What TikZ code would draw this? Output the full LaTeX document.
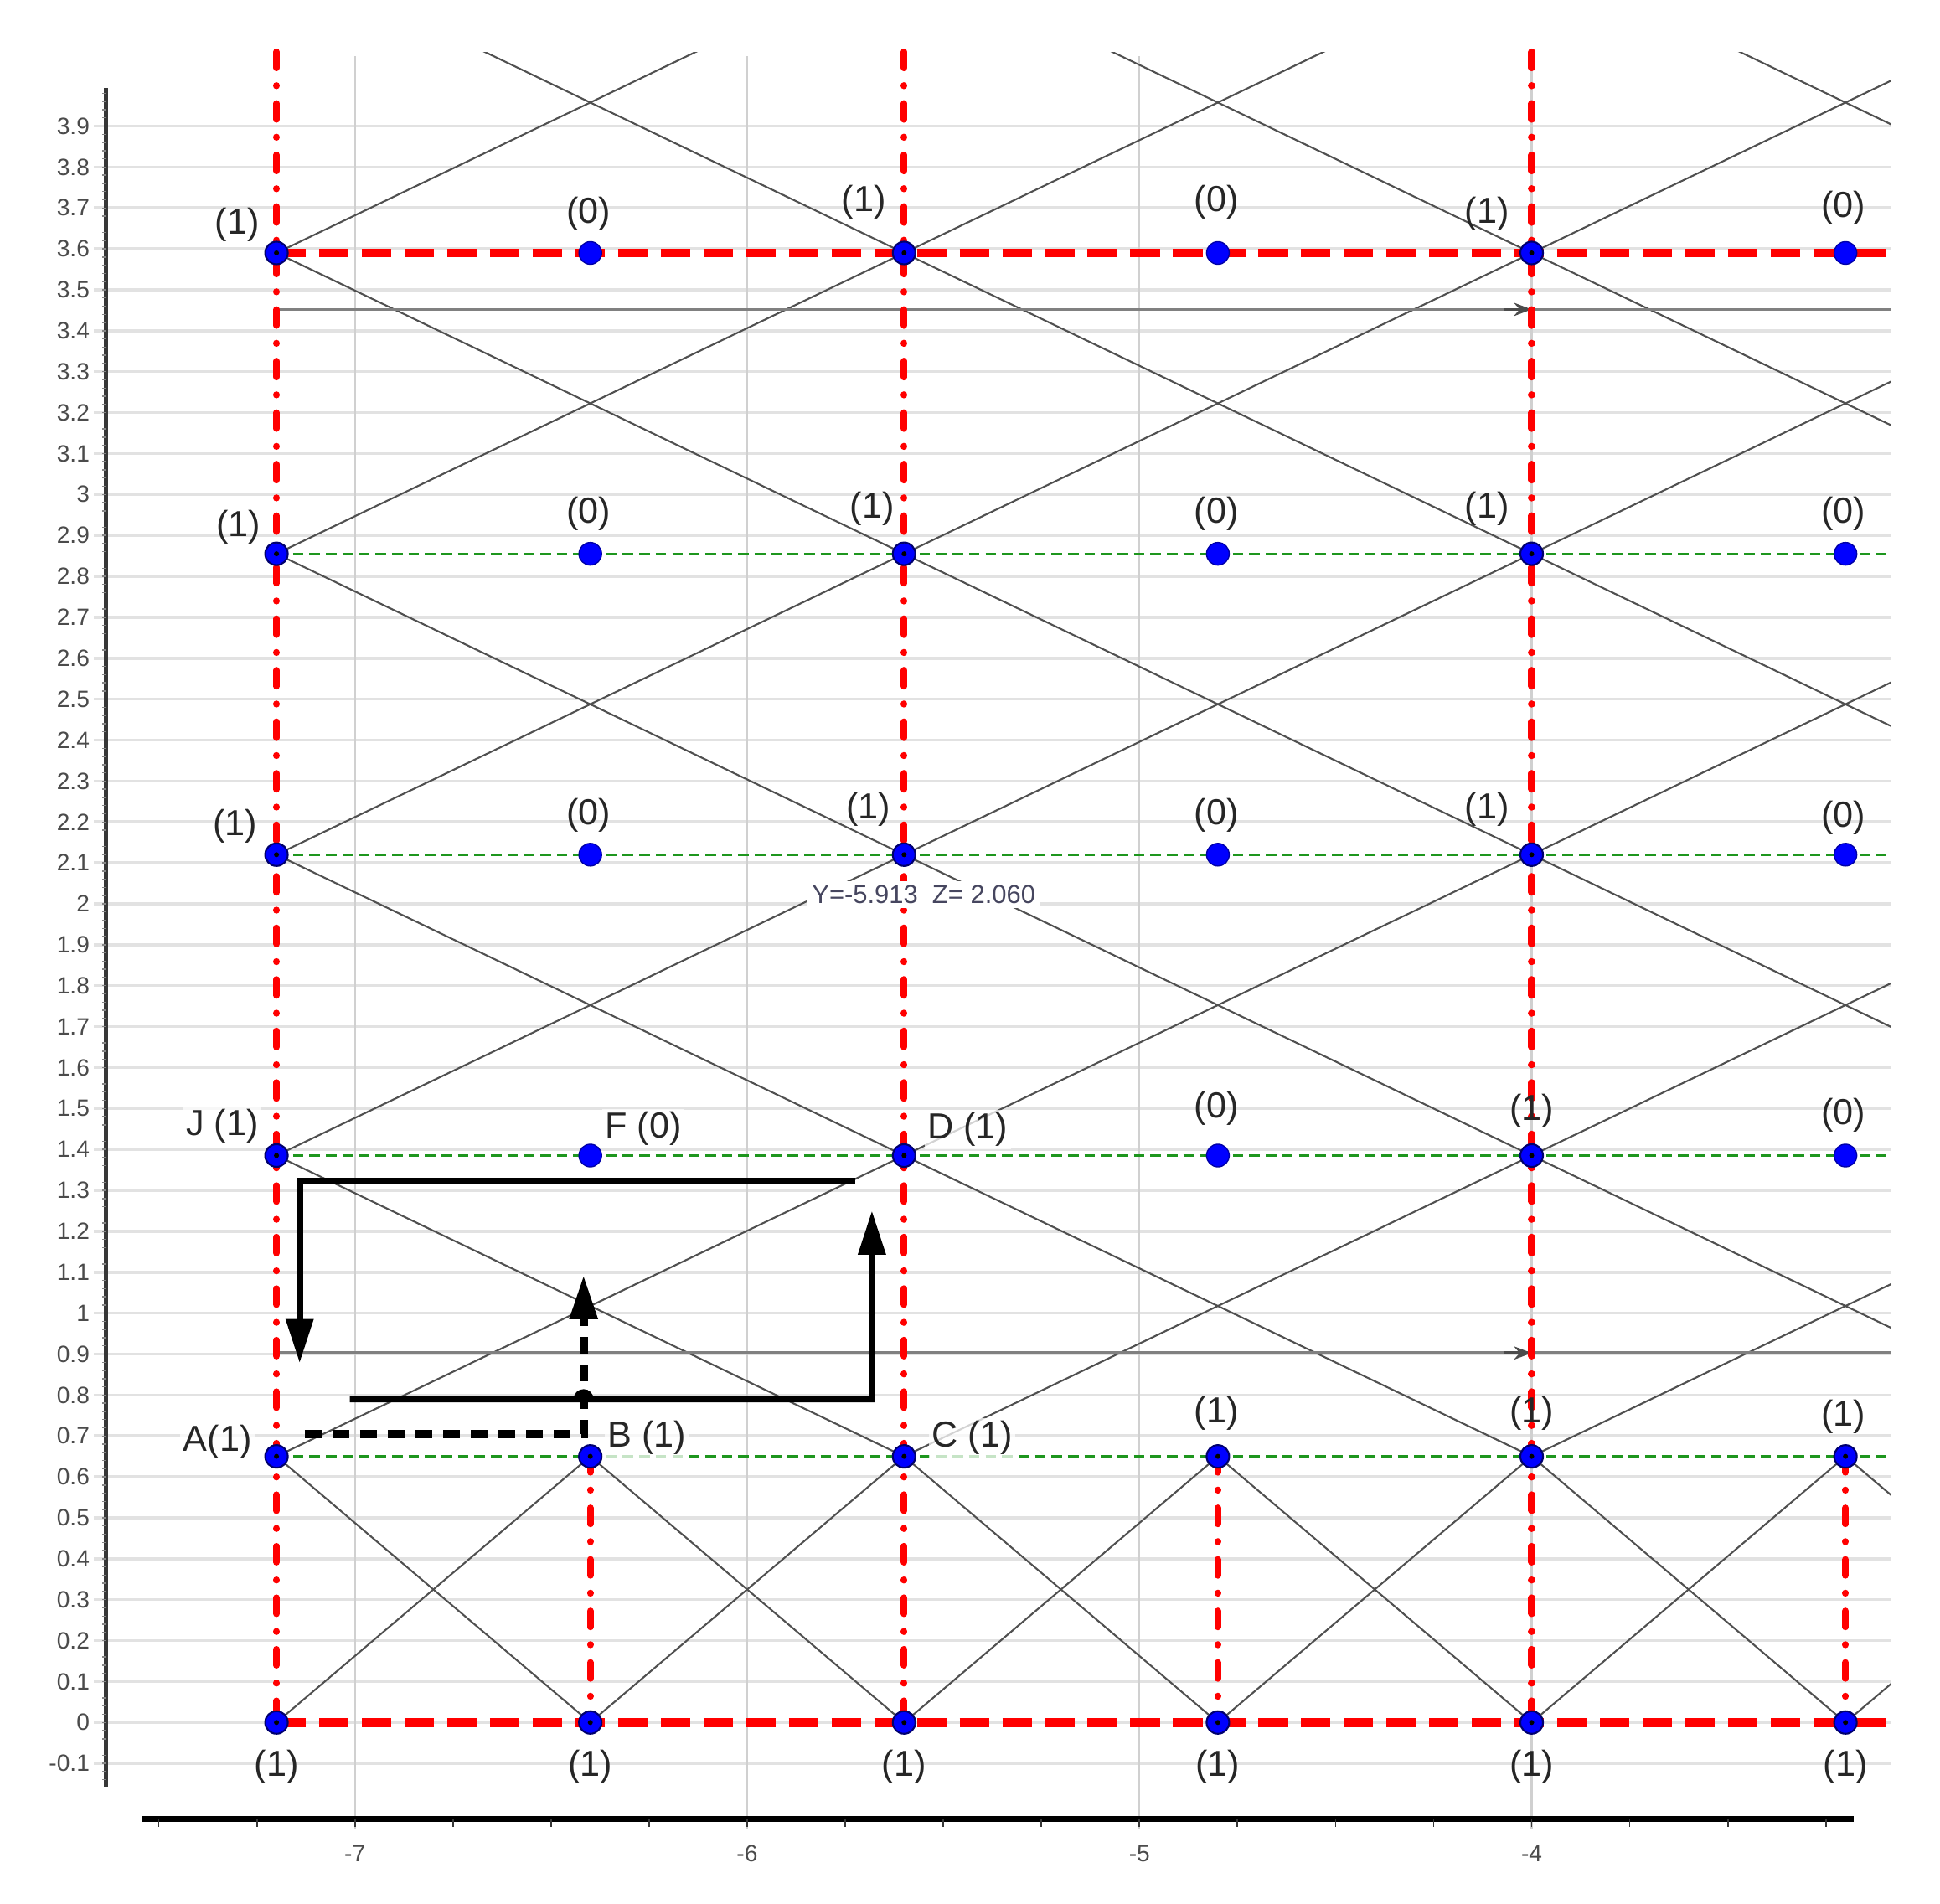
\documentclass[tikz,border=0pt]{standalone}
\usepackage{fontspec}
\setmainfont{Liberation Sans}
\usetikzlibrary{arrows.meta,calc}
\definecolor{gridgray}{RGB}{226,226,226}
\definecolor{vgridc}{RGB}{208,208,208}
\definecolor{linegray}{RGB}{80,80,80}
\definecolor{greend}{RGB}{30,150,30}
\definecolor{bluedot}{RGB}{0,0,255}
\definecolor{navyc}{RGB}{0,0,110}
\definecolor{axisgray}{RGB}{55,55,55}
\definecolor{ticklab}{RGB}{75,75,75}
\definecolor{infocol}{RGB}{70,70,95}
\begin{document}
\begin{tikzpicture}[x=4.682cm,y=4.886cm,
  hgrid/.style={gridgray,line width=1pt},
  vgridline/.style={vgridc,line width=0.6pt},
  lat/.style={linegray,line width=0.6pt},
  reddashdot/.style={red,line width=2.3pt,line cap=round,dash pattern=on 5.4pt off 6pt on 0.1pt off 6pt},
  reddash/.style={red,line width=3pt,dash pattern=on 10pt off 4.5pt},
  greendash/.style={greend,line width=0.9pt,dash pattern=on 3.6pt off 2pt},
  grayline/.style={gray,line width=1pt},
  graytip/.style={black!70,line width=1pt,-{Stealth[length=6pt,width=4.5pt]}},
  bigarrow/.style={black,line width=2.2pt,-{Triangle[length=15pt,width=9pt]}},
  dasharrow/.style={black,line width=2.8pt,dash pattern=on 5.7pt off 3.7pt,-{Triangle[length=15pt,width=9pt]}},
  ptlab/.style={font=\fontsize{12.3}{14}\selectfont,text=black!85,inner sep=1pt},
  lettlab/.style={ptlab,fill=white,fill opacity=0.75,text opacity=1},
  ylab/.style={font=\fontsize{8}{9}\selectfont,text=ticklab,anchor=east,inner sep=0pt},
  xlab/.style={font=\fontsize{8}{9}\selectfont,text=ticklab,inner sep=0pt},
  ipt/.style={circle,fill=bluedot,draw=navyc,line width=0.6pt,minimum size=0.27cm,inner sep=0pt,
    path picture={\fill[black] (path picture bounding box.center) circle (0.03cm);}},
  fpt/.style={circle,fill=bluedot,draw=navyc!60!bluedot,line width=0.4pt,minimum size=0.27cm,inner sep=0pt},
]
\useasboundingbox (-7.905,-0.442) rectangle (-2.959,4.208);
\fill[white] (-7.905,-0.442) rectangle (-2.959,4.208);

% grid
\foreach \i in {-1,...,39} \draw[hgrid] (-7.665,\i/10) -- (-3.085,\i/10);
\foreach \x in {-7,-6,-5,-4} \draw[vgridline] (\x,4.07) -- (\x,-0.26);

% axes
\draw[axisgray,line width=1.5pt] (-7.634,3.993) -- (-7.634,-0.156);
\foreach \i in {-7,...,199} \draw[axisgray!60,line width=0.4pt] (-7.634,\i/50) -- ++(-0.01,0);
\draw[black,line width=1.8pt] (-7.543,-0.2355) -- (-3.178,-0.2355);
\foreach \i in {-30,...,-13} \draw[axisgray,line width=0.5pt] (\i/4,-0.2355) -- ++(0,-0.02);

\foreach \i/\t in {-1/-0.1,0/0,1/0.1,2/0.2,3/0.3,4/0.4,5/0.5,6/0.6,7/0.7,8/0.8,9/0.9,10/1,
  11/1.1,12/1.2,13/1.3,14/1.4,15/1.5,16/1.6,17/1.7,18/1.8,19/1.9,20/2,
  21/2.1,22/2.2,23/2.3,24/2.4,25/2.5,26/2.6,27/2.7,28/2.8,29/2.9,30/3,
  31/3.1,32/3.2,33/3.3,34/3.4,35/3.5,36/3.6,37/3.7,38/3.8,39/3.9}
  \node[ylab] (yl\i) at (-7.675,\i/10) {\t};
\foreach \x in {-7,-6,-5,-4} \node[xlab] (xl\x) at (\x,-0.321) {\x};

% upper lattice of diagonals
\begin{scope}
\clip (-7.2,0.65) rectangle (-3.085,4.081);
\foreach \j in {-3,...,8} {
  \draw[lat] (-23.2,{0.65+0.735*(\j)-7.35}) -- (8.8,{0.65+0.735*(\j)+7.35});
  \draw[lat] (-23.2,{0.65+0.735*(\j)+7.35}) -- (8.8,{0.65+0.735*(\j)-7.35});
}
\end{scope}
% lower crosses
\begin{scope}
\clip (-7.2,0) rectangle (-3.085,0.65);
\foreach \k in {0,...,5} {
  \draw[lat] ({-7.2+0.8*\k},0) -- ({-6.4+0.8*\k},0.65);
  \draw[lat] ({-7.2+0.8*\k},0.65) -- ({-6.4+0.8*\k},0);
}
\end{scope}

% gray horizontal lines with arrow marks
\coordinate (g1s) at (-7.2,3.452); \coordinate (g1e) at (-3.085,3.452);
\coordinate (g1a) at (-4.07,3.452); \coordinate (g1t) at (-4.0,3.452);
\coordinate (g2s) at (-7.2,0.9026); \coordinate (g2e) at (-3.085,0.9026);
\coordinate (g2a) at (-4.07,0.9026); \coordinate (g2t) at (-4.0,0.9026);
\draw[grayline] (g1s) -- (g1e);
\draw[graytip] (g1a) -- (g1t);
\draw[grayline] (g2s) -- (g2e);
\draw[graytip] (g2a) -- (g2t);

% green dashed rows
\foreach \r in {0.65,1.385,2.12,2.855} \draw[greendash] (-7.2,\r) -- (-3.085,\r);

% red lines
\foreach \x in {-7.2,-5.6,-4.0} \draw[reddashdot] (\x,4.081) -- (\x,0);
\foreach \x in {-6.4,-4.8,-3.2} \draw[reddashdot] (\x,0.65) -- (\x,0);
\draw[reddash] (-7.2,3.59) -- (-3.085,3.59);
\draw[reddash] (-7.2,0) -- (-3.085,0);

% black arrows
\coordinate (s1) at (-5.725,1.322); \coordinate (c1) at (-7.141,1.322); \coordinate (e1) at (-7.141,0.878);
\draw[bigarrow] (s1) -- (c1) -- (e1);
\coordinate (s2) at (-7.013,0.790); \coordinate (h2) at (-6.417,0.790);
\coordinate (c2) at (-5.682,0.790); \coordinate (e2) at (-5.682,1.2505);
\draw[bigarrow] (s2) -- ([xshift=-0.08cm]h2) arc[start angle=180,end angle=0,radius=0.08cm] -- (c2) -- (e2);
\coordinate (s3) at (-7.128,0.704); \coordinate (c3) at (-6.417,0.704); \coordinate (e3) at (-6.417,1.093);
\draw[dasharrow] (s3) -- (c3) -- (e3);

% labels
\node[ptlab] (l05a) at (-7.300,3.658) {(1)};
\node[ptlab] (l15a) at (-6.404,3.685) {(0)};
\node[ptlab] (l25a) at (-5.703,3.715) {(1)};
\node[ptlab] (l35a) at (-4.804,3.715) {(0)};
\node[ptlab] (l45a) at (-4.114,3.685) {(1)};
\node[ptlab] (l55a) at (-3.205,3.700) {(0)};

\node[ptlab] (l04a) at (-7.297,2.920) {(1)};
\node[ptlab] (l14a) at (-6.404,2.953) {(0)};
\node[ptlab] (l24a) at (-5.681,2.966) {(1)};
\node[ptlab] (l34a) at (-4.804,2.953) {(0)};
\node[ptlab] (l44a) at (-4.114,2.966) {(1)};
\node[ptlab] (l54a) at (-3.205,2.953) {(0)};

\node[ptlab] (l03a) at (-7.306,2.189) {(1)};
\node[ptlab] (l13a) at (-6.404,2.216) {(0)};
\node[ptlab] (l23a) at (-5.691,2.231) {(1)};
\node[ptlab] (l33a) at (-4.804,2.216) {(0)};
\node[ptlab] (l43a) at (-4.114,2.231) {(1)};
\node[ptlab] (l53a) at (-3.205,2.210) {(0)};

\node[lettlab] (l02a) at (-7.338,1.457) {J (1)};
\node[lettlab] (l12a) at (-6.265,1.451) {F (0)};
\node[lettlab] (l22a) at (-5.438,1.448) {D (1)};
\node[ptlab] (l32a) at (-4.804,1.499) {(0)};
\node[ptlab] (l42a) at (-4.000,1.493) {(1)};
\node[ptlab] (l52a) at (-3.205,1.484) {(0)};

\node[lettlab] (l01a) at (-7.350,0.686) {A(1)};
\node[lettlab] (l11a) at (-6.256,0.695) {B (1)};
\node[lettlab] (l21a) at (-5.426,0.695) {C (1)};
\node[ptlab] (l31a) at (-4.804,0.756) {(1)};
\node[ptlab] (l41a) at (-4.000,0.756) {(1)};
\node[ptlab] (l51a) at (-3.205,0.747) {(1)};

\foreach \c in {0,...,5} \node[ptlab] (l\c0a) at ({-7.2+0.8*\c},-0.108) {(1)};

\node[font=\fontsize{8.8}{10}\selectfont,text=infocol,fill=white,inner sep=1.5pt] (info) at (-5.550,2.022) {Y=-5.913\ \ Z= 2.060};

% points
\foreach \c in {0,2,4} \foreach \r in {0,...,5}
  \node[ipt] (p\c\r) at ({-7.2+0.8*\c},{max(0,0.65+0.735*(\r-1))}) {};
\foreach \c in {1,3,5} \foreach \r in {0,1}
  \node[ipt] (p\c\r) at ({-7.2+0.8*\c},{max(0,0.65+0.735*(\r-1))}) {};
\foreach \c in {1,3,5} \foreach \r in {2,...,5}
  \node[fpt] (p\c\r) at ({-7.2+0.8*\c},{0.65+0.735*(\r-1)}) {};
\end{tikzpicture}
\end{document}
